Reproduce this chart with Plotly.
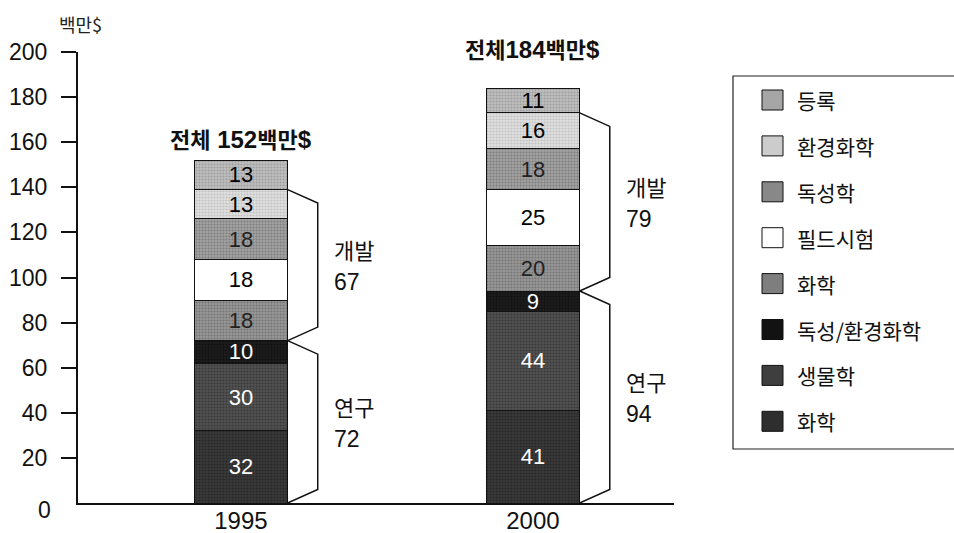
import plotly.graph_objects as go

# Pesticide R&D spending by category (million $), stacked bottom to top
years = ["1995", "2000"]
categories = ["화학", "생물학", "독성/환경화학", "화학", "필드시험", "독성학", "환경화학", "등록"]
values_1995 = [32, 30, 10, 18, 18, 18, 13, 13]
values_2000 = [41, 44, 9, 20, 25, 18, 16, 11]
totals = [152, 184]

# Stage groups (index ranges into categories) and their labels
group_names = ["연구", "개발"]
group_slices = [(0, 3), (3, 7)]

tick_values = [0, 20, 40, 60, 80, 100, 120, 140, 160, 180, 200]
y_unit = "백만$"

# Halftone-like grey fills: (background, dot colour, label colour)
fills = [
    ("#3a3a3a", "#141414", "white"),
    ("#525252", "#202020", "white"),
    ("#1c1c1c", "#050505", "white"),
    ("#989898", "#505050", "#222222"),
    ("#ffffff", "#ffffff", "black"),
    ("#a2a2a2", "#585858", "#222222"),
    ("#e0e0e0", "#a0a0a0", "black"),
    ("#c0c0c0", "#787878", "black"),
]
legend_fill = ["#2e2e2e", "#3e3e3e", "#121212", "#7e7e7e", "#ffffff",
               "#888888", "#cccccc", "#a6a6a6"]

NUM = "Liberation Sans, Arial, sans-serif"
KFONT = "Noto Sans CJK KR, sans-serif"

# Plot-area geometry (pixels) used to place items outside the axes
W, H = 954, 533
L, R, T, B = 78, 280, 52, 30
PW, PH = W - L - R, H - T - B


def px_x(px):
    return (px - L) / PW


def px_y(py):
    return (H - B - py) / PH


bar_w = 0.32
xpos = [0, 1]
series = [values_1995, values_2000]

fig = go.Figure()
for i, name in enumerate(categories):
    bg, fg, tc = fills[i]
    fig.add_trace(go.Bar(
        x=xpos,
        y=[values_1995[i], values_2000[i]],
        width=bar_w,
        name=name,
        text=[str(values_1995[i]), str(values_2000[i])],
        textposition="inside",
        insidetextanchor="middle",
        textangle=0,
        textfont=dict(family=NUM, size=22, color=tc),
        marker=dict(
            color=bg,
            line=dict(color="#111111", width=1),
            pattern=dict(shape="." if bg != "#ffffff" else "", fgcolor=fg,
                         bgcolor=bg, size=3, solidity=0.4, fillmode="overlay"),
        ),
        showlegend=False,
        hoverinfo="skip",
    ))

# Brackets for the research / development groups, with labels
dx, dy = 0.103, 6
for b, vals in enumerate(series):
    xr = xpos[b] + bar_w / 2
    for g, (s, e) in enumerate(group_slices):
        lo = sum(vals[:s])
        hi = sum(vals[:e])
        path = (f"M {xr},{hi} L {xr + dx},{hi - dy} "
                f"L {xr + dx},{lo + dy} L {xr},{lo}")
        fig.add_shape(type="path", path=path, xref="x", yref="y",
                      line=dict(color="#111111", width=1.5))
        mid = (lo + hi) / 2
        fig.add_annotation(x=xr + 0.152, y=mid, xref="x", yref="y",
                           text=group_names[g], showarrow=False, xanchor="left",
                           yanchor="middle", yshift=16,
                           font=dict(family=KFONT, size=22, color="#111111"))
        fig.add_annotation(x=xr + 0.152, y=mid, xref="x", yref="y",
                           text=str(hi - lo), showarrow=False, xanchor="left",
                           yanchor="middle", yshift=-17,
                           font=dict(family=NUM, size=23, color="#111111"))

# Totals above the bars
title_shift = [22, 40]
title_gap = [" ", ""]
for b, tot in enumerate(totals):
    txt = (f"<b><span style='font-family:{KFONT};font-size:22px'>전체</span>"
           f"{title_gap[b]}{tot}"
           f"<span style='font-family:{KFONT};font-size:22px'>백만</span>$</b>")
    fig.add_annotation(x=xpos[b], y=tot, xref="x", yref="y",
                       text=txt, showarrow=False, yanchor="middle",
                       yshift=title_shift[b],
                       font=dict(family=NUM, size=24, color="#111111"))

# Unit label and the zero label (the zero level has no tick mark)
fig.add_annotation(x=px_x(80), y=px_y(24), xref="paper", yref="paper",
                   text=y_unit, showarrow=False, xanchor="center",
                   yanchor="middle",
                   font=dict(family=KFONT, size=18, color="#222222"))
fig.add_annotation(x=px_x(53), y=0, xref="paper", yref="y",
                   text=str(tick_values[0]), showarrow=False, xanchor="right",
                   yanchor="middle", yshift=-7,
                   font=dict(family=NUM, size=23, color="#111111"))

# Legend box (open on the right side)
lx0, lx1 = px_x(733), px_x(1000)
ly0, ly1 = px_y(449), px_y(76)
fig.add_shape(type="path", xref="paper", yref="paper",
              path=f"M {lx1},{ly1} L {lx0},{ly1} L {lx0},{ly0} L {lx1},{ly0}",
              line=dict(color="#222222", width=1.2))
for k, idx in enumerate(reversed(range(len(categories)))):
    cy = 100 + k * 45.9
    fig.add_shape(type="rect", xref="paper", yref="paper",
                  x0=px_x(762), x1=px_x(783), y0=px_y(cy + 10), y1=px_y(cy - 10),
                  fillcolor=legend_fill[idx],
                  line=dict(color="#111111", width=1))
    fig.add_annotation(x=px_x(795), y=px_y(cy), xref="paper", yref="paper",
                       text=categories[idx], showarrow=False, xanchor="left",
                       yanchor="middle",
                       font=dict(family=KFONT, size=21, color="#111111"))

fig.update_layout(
    barmode="stack",
    width=W, height=H,
    margin=dict(l=L, r=R, t=T, b=B, pad=0),
    paper_bgcolor="white",
    plot_bgcolor="white",
    uniformtext=dict(minsize=22, mode="show"),
    xaxis=dict(
        range=[-0.558, 1.483],
        tickvals=xpos, ticktext=years,
        showline=True, linecolor="#111111", linewidth=2,
        ticks="", showgrid=False, zeroline=False, automargin=False,
        ticklabelstandoff=-5,
        tickfont=dict(family=NUM, size=24, color="#111111"),
    ),
    yaxis=dict(
        range=[0, 200],
        tickvals=tick_values[1:],
        showline=True, linecolor="#111111", linewidth=2,
        ticks="outside", ticklen=15, tickwidth=2, tickcolor="#111111",
        ticklabelstandoff=9, automargin=False,
        showgrid=False, zeroline=False,
        tickfont=dict(family=NUM, size=23, color="#111111"),
    ),
)

fig.write_html("out.html")
